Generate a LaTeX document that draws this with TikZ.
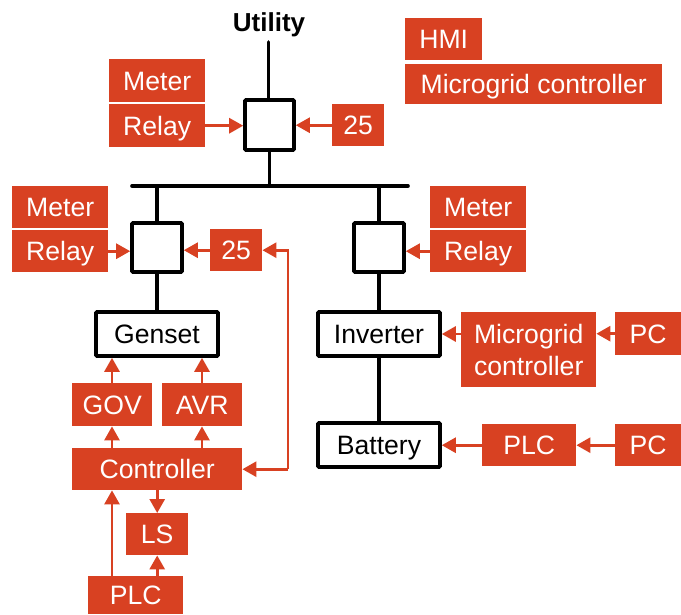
\documentclass[tikz,border=0pt]{standalone}
\usepackage{fontspec}
\setmainfont{Liberation Sans}
\usetikzlibrary{arrows.meta,calc}
\definecolor{redbox}{HTML}{D84122}
\tikzset{
 x=1pt,y=-1pt,
 box/.style n args={4}{fill=redbox,text=white,inner sep=0pt,align=center,font=\fontsize{26.6}{32}\selectfont,
   text height=19pt,text depth=0pt,
   minimum width=#3-#1,minimum height=#4-#2,anchor=north west,at={(#1,#2)}},
 bk/.style n args={4}{draw=black,fill=white,line width=3.6pt,rounded corners=1pt,inner sep=0pt,font=\fontsize{26.6}{32}\selectfont,
   text height=19pt,text depth=0pt,
   minimum width=#3-#1,minimum height=#4-#2,anchor=center,at={({(#1+#3)/2},{(#2+#4)/2})}},
 wire/.style={black,line width=3.6pt,line cap=round},
 sig/.style={redbox,line width=2.8pt,-{Triangle[length=14pt,width=15pt]}},
}
\begin{document}
\begin{tikzpicture}
\useasboundingbox (0,0) rectangle (681,614);
% breakers & equipment
\node[bk={245}{100}{294}{150}] (b0) {};
\node[bk={132}{223}{182}{272}] (b1) {};
\node[bk={354}{223}{404}{272}] (b2) {};
\node[bk={96}{312}{218}{356}] (gen) {Genset};
\node[bk={318}{312}{440}{356}] (inv) {Inverter};
\node[bk={318}{423}{440}{467}] (bat) {Battery};
\node[font=\bfseries\fontsize{26}{30}\selectfont,anchor=center] (util) at (269,25) {Utility};
\coordinate (u0) at (268.5,42);
\coordinate (busL) at (132,186);
\coordinate (busR) at (408,186);
% red boxes
\node[box={109}{59}{205}{102}] (m0) {Meter};
\node[box={109}{104}{205}{147}] (r0) {Relay};
\node[box={332}{104}{384}{146}] (s0) {25};
\node[box={12}{186}{108}{228}] (m1) {Meter};
\node[box={12}{230}{108}{272}] (r1) {Relay};
\node[box={210}{229}{262}{271}] (s1) {25};
\node[box={430}{186}{526}{228}] (m2) {Meter};
\node[box={430}{230}{526}{272}] (r2) {Relay};
\node[box={405}{18}{482}{60}] (hmi) {HMI};
\node[box={405}{64}{662}{104}] (mc) {Microgrid controller};
\node[box={461}{312}{596}{387},text height={},text depth={}] (mc2) {Microgrid\\controller};
\node[box={615}{312}{681}{355}] (pc1) {PC};
\node[box={482}{424}{576}{466}] (plc2) {PLC};
\node[box={615}{424}{681}{466}] (pc2) {PC};
\node[box={72}{383}{152}{426}] (gov) {GOV};
\node[box={162}{383}{242}{426}] (avr) {AVR};
\node[box={72}{448}{242}{490}] (ctl) {Controller};
\node[box={126}{513}{188}{555}] (ls) {LS};
\node[box={88}{576}{183}{614}] (plc) {PLC};
% power wires
\draw[wire] (u0) -- (u0 |- b0.north);
\draw[wire] (busL) -- (busR);
\draw[wire] (b0.south) -- (b0.south |- busL);
\draw[wire] (b1.north |- busL) -- (b1.north);
\draw[wire] (b2.north |- busL) -- (b2.north);
\draw[wire] (b1.south) -- (gen.north);
\draw[wire] (b2.south) -- (inv.north);
\draw[wire] (inv.south) -- (bat.north);
% signals
\draw[sig] (r0.east) -- (r0.east -| b0.west);
\draw[sig] (s0.west) -- (s0.west -| b0.east);
\draw[sig] (r1.east) -- (r1.east -| b1.west);
\draw[sig] (s1.west) -- (s1.west -| b1.east);
\draw[sig] (r2.west) -- (r2.west -| b2.east);
\draw[sig] (mc2.west |- inv.east) -- (inv.east);
\draw[sig] (pc1.west) -- (pc1.west -| mc2.east);
\draw[sig] (plc2.west) -- (plc2.west -| bat.east);
\draw[sig] (pc2.west) -- (plc2.east);
\coordinate (g) at (112,0);
\coordinate (a) at (202,0);
\coordinate (loop) at (288,0);
\draw[sig] (g |- gov.north) -- (g |- gen.south);
\draw[sig] (a |- avr.north) -- (a |- gen.south);
\draw[sig] (g |- ctl.north) -- (g |- gov.south);
\draw[sig] (a |- ctl.north) -- (a |- avr.south);
\draw[sig] (ls.north |- ctl.south) -- (ls.north);
\draw[sig] (g |- plc.north) -- (g |- ctl.south);
\draw[sig] (ls.south |- plc.north) -- (ls.south);
\draw[sig] (loop |- ctl.east) -- (ctl.east);
\draw[sig] (loop |- ctl.east) -- (loop |- s1.east) -- (s1.east);
\end{tikzpicture}
\end{document}
